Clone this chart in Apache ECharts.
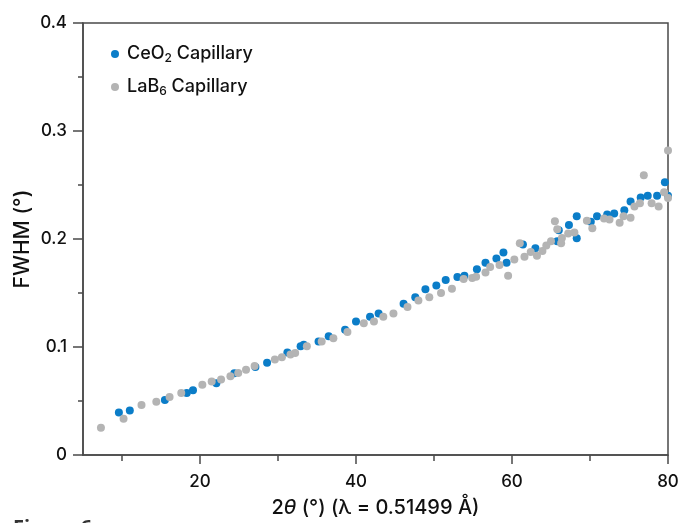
<!DOCTYPE html>
<html>
<head>
<meta charset="utf-8">
<script src="https://cdn.jsdelivr.net/npm/echarts@6/dist/echarts.min.js"></script>
<style>
html,body{margin:0;padding:0;background:#fff;}
#chart{width:682px;height:523px;}
</style>
</head>
<body>
<div id="chart"></div>
<script>
// CeO2 capillary: [2θ (°), FWHM (°)]
var ceo2Data = [
  [9.6,0.0393],[11.0,0.0412],[15.5,0.051],[18.3,0.0573],[19.1,0.060],[22.1,0.0665],
  [24.4,0.0757],[27.1,0.0814],[28.6,0.0854],[31.2,0.095],[32.9,0.1006],[33.3,0.102],
  [35.2,0.105],[36.5,0.110],[38.6,0.116],[40.0,0.1235],[41.8,0.128],[42.9,0.131],
  [46.1,0.140],[47.6,0.146],[48.9,0.1535],[50.3,0.157],[51.5,0.162],[53.0,0.1647],
  [53.9,0.166],[55.5,0.172],[56.6,0.178],[58.0,0.182],[58.9,0.1875],[59.3,0.178],
  [61.4,0.195],[63.0,0.1915],[65.8,0.198],[66.0,0.208],[67.3,0.213],[68.3,0.221],
  [68.3,0.2006],[70.1,0.216],[70.9,0.221],[72.2,0.2226],[73.1,0.2235],[74.4,0.2266],
  [75.2,0.2348],[76.5,0.2385],[77.4,0.240],[78.6,0.240],[79.6,0.2525],[80.0,0.240]
];
// LaB6 capillary: [2θ (°), FWHM (°)]
var lab6Data = [
  [7.3,0.0253],[10.2,0.0336],[12.5,0.0464],[14.4,0.0494],[16.1,0.0537],[17.6,0.0573],
  [20.3,0.065],[21.5,0.068],[22.7,0.070],[23.9,0.073],[24.9,0.076],[25.9,0.079],
  [27.0,0.0823],[29.6,0.0885],[30.5,0.0906],[31.6,0.093],[32.2,0.0945],[33.7,0.1006],
  [35.6,0.105],[37.1,0.108],[38.9,0.114],[41.0,0.122],[42.3,0.1235],[43.5,0.128],
  [44.8,0.131],[46.6,0.137],[48.0,0.143],[49.4,0.146],[50.9,0.150],[52.3,0.154],
  [53.8,0.163],[54.9,0.164],[55.4,0.165],[56.6,0.169],[57.2,0.174],[58.4,0.176],
  [59.5,0.166],[60.3,0.181],[61.0,0.196],[61.6,0.1836],[62.4,0.188],[63.2,0.1845],
  [63.9,0.189],[64.4,0.194],[65.0,0.198],[65.5,0.2165],[65.8,0.209],[66.3,0.196],
  [66.4,0.201],[67.2,0.205],[68.0,0.206],[69.6,0.217],[70.3,0.210],[71.8,0.219],
  [72.5,0.218],[73.8,0.215],[74.3,0.221],[75.2,0.2196],[75.7,0.230],[76.4,0.233],
  [76.9,0.259],[77.9,0.233],[78.8,0.230],[79.5,0.2433],[80.0,0.238],[80.0,0.282]
];
var seriesNames = ['CeO2 Capillary', 'LaB6 Capillary'];
var legendLabels = ['CeO{sub|2} Capillary', 'LaB{sub|6} Capillary'];
var xMajorTicks = [20, 40, 60, 80];
var xMinorTicks = [10, 30, 50, 70];
var yTicks = [0, 0.1, 0.2, 0.3, 0.4];

var FONT = 'Inter, "Liberation Sans", Arial, sans-serif';
var AX = '#4a4a4a';
var TXT = '#111111';
var FW = 500;

var chart = echarts.init(document.getElementById('chart'), null, {renderer: 'canvas'});
chart.setOption({
  animation: false,
  backgroundColor: '#ffffff',
  textStyle: {fontFamily: FONT},
  grid: {left: 83, right: 14, top: 23, bottom: 63, show: true, borderColor: AX, borderWidth: 1.5, backgroundColor: 'transparent'},
  legend: {
    orient: 'vertical', left: 106, top: 38, itemGap: 11,
    itemWidth: 14, itemHeight: 8, icon: 'circle',
    data: seriesNames,
    formatter: function (name) { return legendLabels[seriesNames.indexOf(name)]; },
    textStyle: {
      fontFamily: FONT, fontSize: 18, fontWeight: FW, color: TXT, lineHeight: 22,
      rich: {sub: {fontFamily: FONT, fontSize: 12, fontWeight: FW, color: TXT, lineHeight: 22, padding: [9, 0, 0, 0]}}
    }
  },
  xAxis: [{
    type: 'value', min: 5, max: 80, position: 'bottom',
    name: '2{it|θ} (°) (λ = 0.51499 Å)', nameLocation: 'middle', nameGap: 43,
    nameTextStyle: {fontFamily: FONT, fontSize: 20, fontWeight: FW, color: TXT,
      rich: {it: {fontFamily: FONT, fontSize: 20, fontWeight: FW, fontStyle: 'italic', color: TXT}}},
    axisLine: {show: true, onZero: false, lineStyle: {color: AX, width: 1.5}},
    axisTick: {show: true, customValues: xMajorTicks, length: 9, lineStyle: {color: AX, width: 1.5}},
    axisLabel: {customValues: xMajorTicks, fontFamily: FONT, fontSize: 17, fontWeight: FW, color: TXT, margin: 18},
    splitLine: {show: false}
  }, {
    type: 'value', min: 5, max: 80, position: 'bottom', gridIndex: 0,
    axisLine: {show: false, onZero: false},
    axisTick: {show: true, customValues: xMinorTicks, length: 6, lineStyle: {color: AX, width: 1.5}},
    axisLabel: {show: false},
    splitLine: {show: false}
  }],
  yAxis: {
    type: 'value', min: 0, max: 0.4, interval: 0.1,
    name: 'FWHM (°)', nameLocation: 'middle', nameGap: 50, nameRotate: 90,
    nameMoveOverlap: false,
    nameTextStyle: {fontFamily: FONT, fontSize: 21, fontWeight: FW, color: TXT},
    axisLine: {show: true, onZero: false, lineStyle: {color: AX, width: 1.5}},
    axisTick: {show: true, length: 10, lineStyle: {color: AX, width: 1.5}},
    minorTick: {show: true, splitNumber: 2, length: 5, lineStyle: {color: AX, width: 1.5}},
    axisLabel: {fontFamily: FONT, fontSize: 17, fontWeight: FW, color: TXT, margin: 16,
      formatter: function (v) { return v === 0 ? '0' : v.toFixed(1); }},
    splitLine: {show: false}, minorSplitLine: {show: false}
  },
  graphic: [{
    type: 'text', left: 13, top: 518,
    style: {text: 'Figure 6', fontFamily: '"Open Sans", sans-serif', fontSize: 20, fontWeight: 'bold', fill: '#333'}
  }],
  series: [{
    name: seriesNames[0], type: 'scatter', data: ceo2Data,
    symbol: 'circle', symbolSize: 8,
    itemStyle: {color: '#0b7dc8', opacity: 1}
  }, {
    name: seriesNames[1], type: 'scatter', data: lab6Data,
    symbol: 'circle', symbolSize: 8,
    itemStyle: {color: '#b4b4b4', opacity: 1}
  }]
});
</script>
</body>
</html>
